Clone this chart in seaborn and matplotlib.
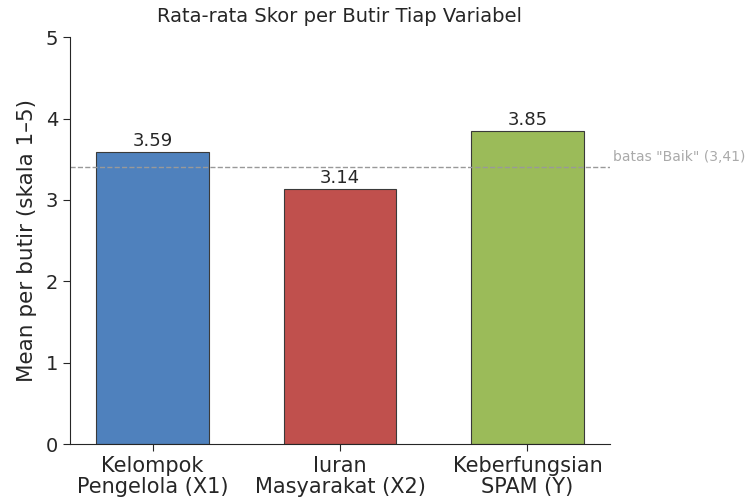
import matplotlib
matplotlib.use("Agg")
import matplotlib.pyplot as plt
import seaborn as sns
import pandas as pd

categories = ["Kelompok\nPengelola (X1)", "Iuran\nMasyarakat (X2)", "Keberfungsian\nSPAM (Y)"]
values = [3.59, 3.14, 3.85]
colors = ["#4F81BD", "#C0504D", "#9BBB59"]
threshold = 3.41
threshold_label = 'batas "Baik" (3,41)'

sns.set_style("white")
plt.rcParams['font.family'] = ['DejaVu Sans']

fig = plt.figure(figsize=(7.53, 5.03), dpi=100)
ax = fig.add_axes([0.093, 0.117, 0.717, 0.809])

df = pd.DataFrame({"cat": categories, "val": values})
sns.barplot(data=df, x="cat", y="val", hue="cat", palette=colors, legend=False,
            width=0.6, edgecolor="#3a3a3a", linewidth=0.8, ax=ax, saturation=1)

for i, v in enumerate(values):
    ax.text(i, v + 0.02, f"{v:.2f}", ha="center", va="bottom", fontsize=13,
            color="#262626")

ax.axhline(threshold, color="#999999", linestyle="--", linewidth=1)
ax.text(2.455, threshold + 0.12, threshold_label, fontsize=10, color="#aaaaaa",
        va="center", ha="left", clip_on=False)

ax.set_ylim(0, 5)
ax.set_xlim(-0.44, 2.44)
ax.set_yticks([0, 1, 2, 3, 4, 5])
ax.set_xlabel("")
ax.set_ylabel("Mean per butir (skala 1–5)", fontsize=15.5, labelpad=6)
ax.set_title("Rata-rata Skor per Butir Tiap Variabel", fontsize=14, pad=11)
ax.tick_params(axis="y", labelsize=14, length=5, left=True)
ax.tick_params(axis="x", labelsize=15, length=5, bottom=True)
for lbl in ax.get_xticklabels():
    lbl.set_linespacing(1.05)
sns.despine(ax=ax)

fig.savefig("out.png", dpi=100)
